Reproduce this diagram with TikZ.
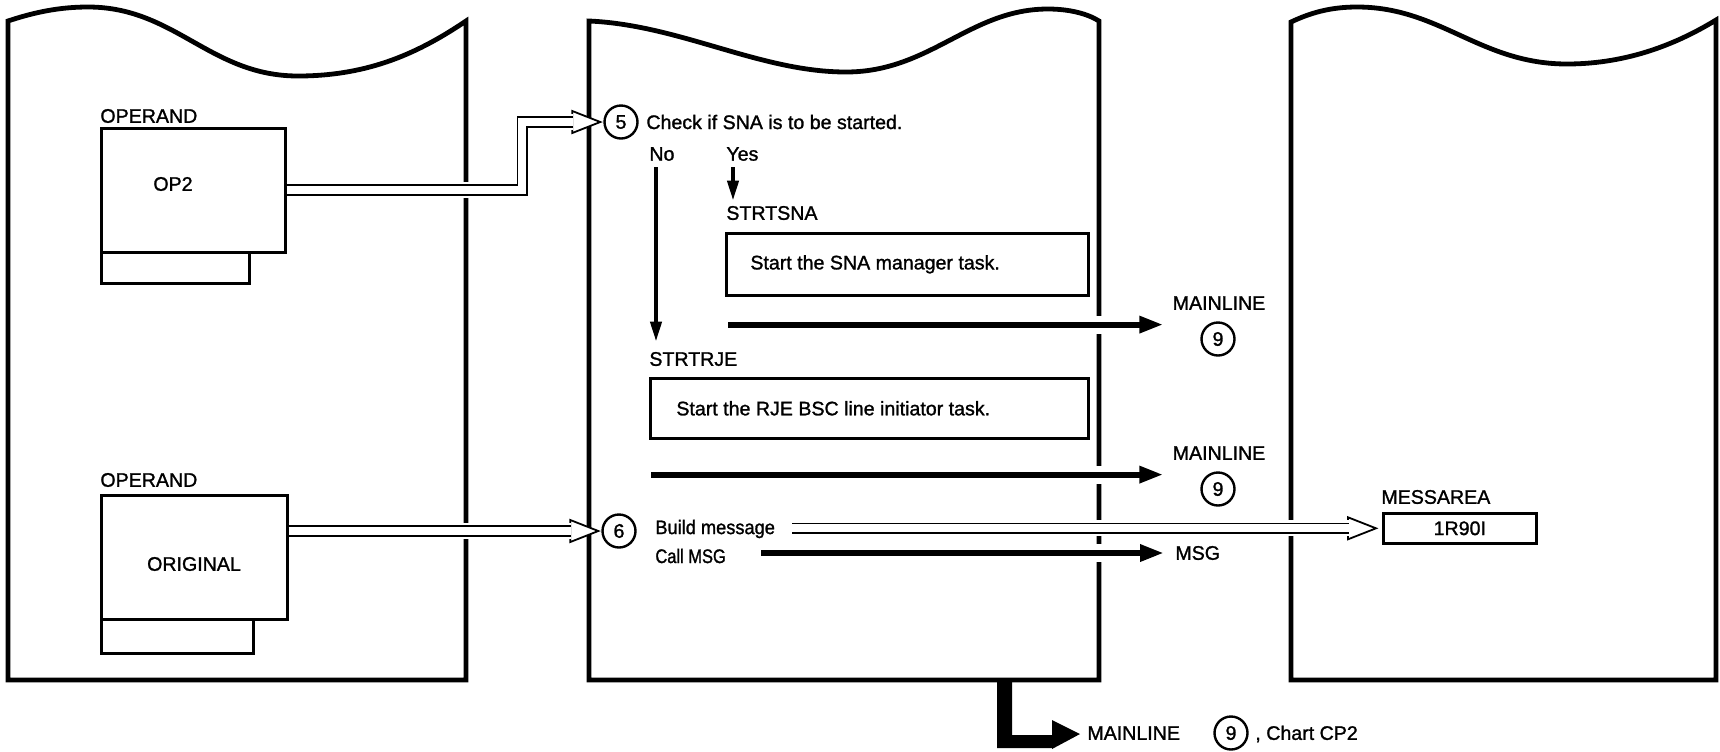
\documentclass[tikz,border=0pt]{standalone}
\usepackage{fontspec}
\setmainfont{Liberation Sans}[FakeBold=1.3]
\newfontfamily\condfont{Liberation Sans}[FakeStretch=0.93,FakeBold=1.3]
\newfontfamily\condfontb{Liberation Sans}[FakeStretch=0.84,FakeBold=1.3]
\usetikzlibrary{arrows.meta,calc}
\newcommand{\hollowhead}[1]{\draw[line width=0.9pt, fill=white, line join=miter] (#1) -- ++(-28,-11) -- ++(0,22) -- cycle;}
\begin{document}
\begin{tikzpicture}[x=0.5pt,y=-0.5pt,
  panel/.style={line width=2.4pt, line join=miter},
  box/.style={draw, line width=1.3pt, inner sep=0pt, anchor=north west},
  lbl/.style={anchor=west, inner sep=0pt, font=\fontsize{9.8}{11}\selectfont},
  ctr/.style={inner sep=0pt, font=\fontsize{9.8}{11}\selectfont},
  num/.style={draw, circle, line width=1.2pt, minimum size=16.5pt, inner sep=0pt, font=\fontsize{9.8}{11}\selectfont},
  thickarrow/.style={line width=3pt, -{Triangle[length=12pt,width=8pt]}, preaction={draw=white, line width=9pt, -}},
  thinarrow/.style={line width=2pt, -{Triangle[length=10pt,width=5.5pt]}},
  hollow/.style={line width=0.9pt, double=white, double distance=4pt, line join=miter, preaction={draw=white, line width=8pt}},
]
\useasboundingbox (0,0) rectangle (1720,751);

% panels
\draw[panel] (8,680) -- (8,21) .. controls (35,12) and (60,7) .. (88,7)
  .. controls (175,7) and (210,76) .. (298,76)
  .. controls (370,76) and (420,52) .. (466,21) -- (466,680) -- cycle;
\draw[panel] (589,680) -- (589,21) .. controls (680,25) and (760,72) .. (846,72)
  .. controls (930,72) and (970,9) .. (1048,9)
  .. controls (1070,9) and (1088,14) .. (1099,21) -- (1099,680) -- cycle;
\draw[panel] (1291,680) -- (1291,22) .. controls (1310,13) and (1330,7) .. (1357,7)
  .. controls (1440,7) and (1480,64) .. (1567,64)
  .. controls (1630,64) and (1680,42) .. (1716,20) -- (1716,680) -- cycle;

% left panel contents
\node[lbl] (opl1) at (100,116) {OPERAND};
\node[box, minimum width=74pt, minimum height=15.5pt] (op2sub) at (100,251) {};
\node[box, fill=white, minimum width=92pt, minimum height=62pt] (op2box) at (100,127) {};
\node[ctr] (op2) at (173,184) {OP2};

\node[lbl] (opl2) at (100,480) {OPERAND};
\node[box, minimum width=76pt, minimum height=17pt] (origsub) at (100,618) {};
\node[box, fill=white, minimum width=93pt, minimum height=62pt] (origbox) at (100,494) {};
\node[ctr] (orig) at (194,564) {ORIGINAL};

% middle panel contents
\node[num] (c5) at (621,122) {5};
\node[lbl] (chk) at (646,122) {Check if SNA is to be started.};
\node[lbl] (no) at (649,154) {No};
\node[lbl] (yes) at (726,154) {Yes};
\node[lbl] (strtsna) at (726,213) {STRTSNA};
\node[box, minimum width=181pt, minimum height=31pt] (snabox) at (725,232) {};
\node[lbl] (snatxt) at ($(snabox.west)+(25,0)$) {Start the SNA manager task.};
\node[lbl] (strtrje) at (649,359) {STRTRJE};
\node[box, minimum width=219pt, minimum height=30pt] (rjebox) at (649,377) {};
\node[lbl] (rjetxt) at ($(rjebox.west)+(27,0)$) {Start the RJE BSC line initiator task.};

\node[ctr] (ml1) at (1219,303) {MAINLINE};
\node[num] (n91) at (1218,339) {9};
\node[ctr] (ml2) at (1219,453) {MAINLINE};
\node[num] (n92) at (1218,489) {9};

\node[num] (c6) at (619,531) {6};
\node[lbl, font=\condfont\fontsize{9.8}{11}\selectfont] (build) at (655,529) {Build message};
\node[lbl, font=\condfontb\fontsize{9.8}{11}\selectfont] (callmsg) at (655,556) {Call MSG};
\node[lbl] (msg) at (1175,553) {MSG};

% right panel contents
\node[lbl] (messarea) at (1381,497) {MESSAREA};
\node[box, minimum width=76.5pt, minimum height=15pt] (mbox) at (1382,512) {};
\node[ctr] (r90) at (mbox.center) {1R90I};

% bottom
\coordinate (lb) at (1004,680);
\node[lbl] (mlb) at (1087,733) {MAINLINE};
\node[num] (n9b) at (1231,733) {9};
\node[lbl] (chart) at (1255,734) {, Chart CP2};

% ---- connectors ----
% hollow arrow OP2 -> 5
\coordinate (t5) at ($(c5.west)+(-3,0)$);
\hollowhead{t5}
\draw[hollow] (op2box.east |- 0,190) -| ($(t5)+(-78,0)$) -- ($(t5)+(-27,0)$);

% hollow arrow ORIGINAL -> 6
\coordinate (t6) at ($(c6.west)+(-3,0)$);
\hollowhead{t6}
\draw[hollow] (origbox.east |- t6) -- ($(t6)+(-27,0)$);

% hollow arrow Build message -> MESSAREA
\coordinate (tm) at ($(mbox.west)+(-6,0)$);
\coordinate (ms) at ($(build.east)+(17,0)$);
\hollowhead{tm}
\draw[hollow] (ms |- tm) -- ($(tm)+(-27,0)$);

% No / Yes arrows
\draw[thinarrow] ($(no.south west)+(7,6)$) -- ($(strtrje.north west)+(7,-10)$);
\draw[thinarrow] ($(yes.south west)+(7,6)$) -- ($(strtsna.north west)+(7,-5)$);

% MAINLINE arrows
\coordinate (a1s) at ($(snabox.south west)+(3,28)$);
\draw[thickarrow] (a1s) -- ($(a1s -| ml1.west)+(-9,0)$);
\coordinate (a2s) at ($(rjebox.south west)+(2,35)$);
\draw[thickarrow] (a2s) -- ($(a2s -| ml2.west)+(-9,0)$);
\draw[thickarrow] ($(callmsg.east)+(35,-3)$) -- ($(msg.west)+(-11,0)$);

% bottom L arrow (bar runs along the lower half of its head)
\fill (lb) ++(-7,0) -- ++(15,0) -- ++(0,55) -- ++(40,0) -- ++(0,-15)
  -- ($(mlb.west)+(-7,1)$) -- ++(-28,15) -- ++(0,-1) -- ($(lb)+(-7,68)$) -- cycle;
\end{tikzpicture}
\end{document}
